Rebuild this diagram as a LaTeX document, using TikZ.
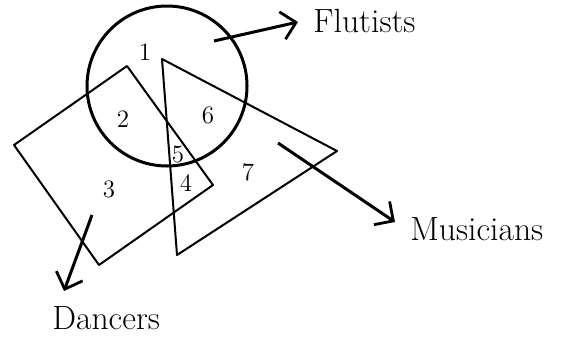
\documentclass[tikz,border=0pt]{standalone}
\usepackage{amsmath,amssymb}
\usetikzlibrary{arrows.meta}

\begin{document}
\begin{tikzpicture}[x=0.5pt, y=-0.5pt, every node/.style={inner sep=0pt},
	num/.style={font=\fontsize{12.5}{14}\selectfont},
	setname/.style={font=\fontsize{16.8}{19}\selectfont, anchor=base west},
	>={Straight Barb[length=7pt, width=14pt, line width=1.4pt]}]
	\useasboundingbox (0,0) rectangle (571,338);
	% the three sets
	\draw[line width=1.5pt] (167,86) circle [radius=40pt];
	\draw[line width=1pt, line join=round] (127,66) -- (14,145) -- (99,265) -- (213,185) -- cycle;
	\draw[line width=1pt, line join=round] (162,59) -- (337,151) -- (177,255) -- cycle;
	% regions
	\node[num] (r1) at (145,52) {1};
	\node[num] (r2) at (123,119) {2};
	\node[num] (r3) at (109,189) {3};
	\node[num] (r4) at (186,183) {4};
	\node[num] (r5) at (178,154) {5};
	\node[num] (r6) at (208,115) {6};
	\node[num] (r7) at (248,172) {7};
	% names
	\node[setname] (flutists) at (313,32) {Flutists};
	\node[setname] (musicians) at (410,240) {Musicians};
	\node[setname] (dancers) at (52,329) {Dancers};
	\coordinate (fstart) at (214,41);
	\coordinate (fend) at (298,22);
	\coordinate (mstart) at (278,143);
	\coordinate (mend) at (395,222);
	\coordinate (dstart) at (92,215);
	\coordinate (dend) at (64,291);
	\draw[->, line width=1.5pt] (fstart) -- (fend);
	\draw[->, line width=1.5pt] (mstart) -- (mend);
	\draw[->, line width=1.5pt] (dstart) -- (dend);
\end{tikzpicture}
\end{document}
